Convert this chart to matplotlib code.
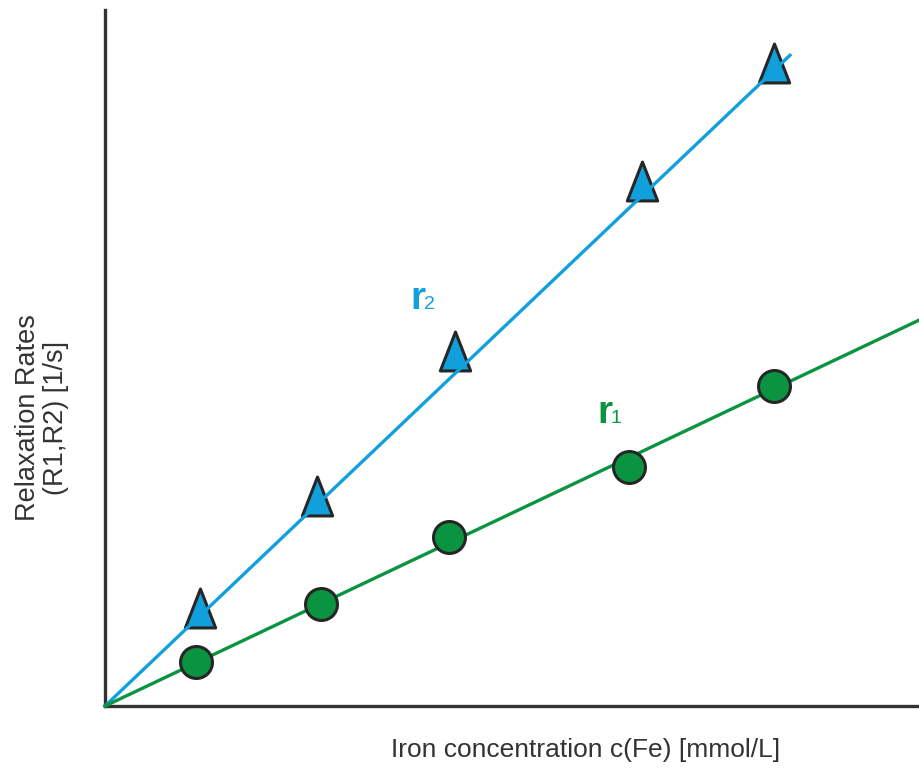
import numpy as np
import matplotlib.pyplot as plt
from matplotlib.path import Path

plt.rcParams['font.family'] = ['Liberation Sans', 'DejaVu Sans']

# measured points (arbitrary units, no ticks shown)
conc_r2 = [0.95, 2.12, 3.50, 5.37, 6.69]
rate_r2 = [0.98, 2.10, 3.55, 5.25, 6.43]
conc_r1 = [0.91, 2.16, 3.44, 5.24, 6.69]
rate_r1 = [0.44, 1.02, 1.69, 2.39, 3.20]

# fitted relaxivities (slopes through the origin)
slope_r2 = 0.95
slope_r1 = 0.474
end_r2 = 6.85
end_r1 = 8.15

blue = '#12a0dd'
green = '#0a9441'
edge = '#262626'

# a slightly tall triangle
tri = Path([(-0.39, -0.5), (0.39, -0.5), (0.0, 0.5), (-0.39, -0.5)],
           [Path.MOVETO, Path.LINETO, Path.LINETO, Path.CLOSEPOLY])

fig = plt.figure(figsize=(9.2, 7.71), dpi=100)
ax = fig.add_axes([105 / 920, 65 / 771, 815 / 920, 696 / 771])

xs2 = np.array([0, end_r2])
xs1 = np.array([0, end_r1])
ax.plot(conc_r2, rate_r2, linestyle='none', marker=tri, markersize=28,
        markerfacecolor=blue, markeredgecolor=edge, markeredgewidth=2.2,
        zorder=2, clip_on=False)
ax.plot(xs2, slope_r2 * xs2, color=blue, lw=2.4, zorder=3, clip_on=False)
ax.plot(xs1, slope_r1 * xs1, color=green, lw=2.4, zorder=3, clip_on=False)
ax.plot(conc_r1, rate_r1, linestyle='none', marker='o', markersize=23,
        markerfacecolor=green, markeredgecolor=edge, markeredgewidth=2.2,
        zorder=4, clip_on=False)

ax.text(3.13, 3.97, 'r', color=blue, fontsize=28, fontweight='bold',
        ha='center', va='baseline')
ax.text(3.19, 3.97, '2', color=blue, fontsize=14, ha='left', va='baseline')
ax.text(5.00, 2.83, 'r', color=green, fontsize=28, fontweight='bold',
        ha='center', va='baseline')
ax.text(5.06, 2.83, '1', color=green, fontsize=14, ha='left', va='baseline')

ax.set_xlim(0, 8.15)
ax.set_ylim(0, 6.96)
ax.set_xticks([])
ax.set_yticks([])
for side in ['top', 'right']:
    ax.spines[side].set_visible(False)
for side in ['left', 'bottom']:
    ax.spines[side].set_linewidth(2.4)
    ax.spines[side].set_color('#333333')

fig.text(0.5 * (388 + 783) / 920, 1 - 750 / 771, 'Iron concentration c(Fe) [mmol/L]',
         fontsize=19, color='#333333', ha='center', va='center')
fig.text(42 / 920, 1 - 418 / 771, 'Relaxation Rates\n(R1,R2) [1/s]',
         fontsize=19.5, color='#333333', ha='center', va='center',
         rotation=90, linespacing=1.1)

fig.savefig('out.png', dpi=100)
